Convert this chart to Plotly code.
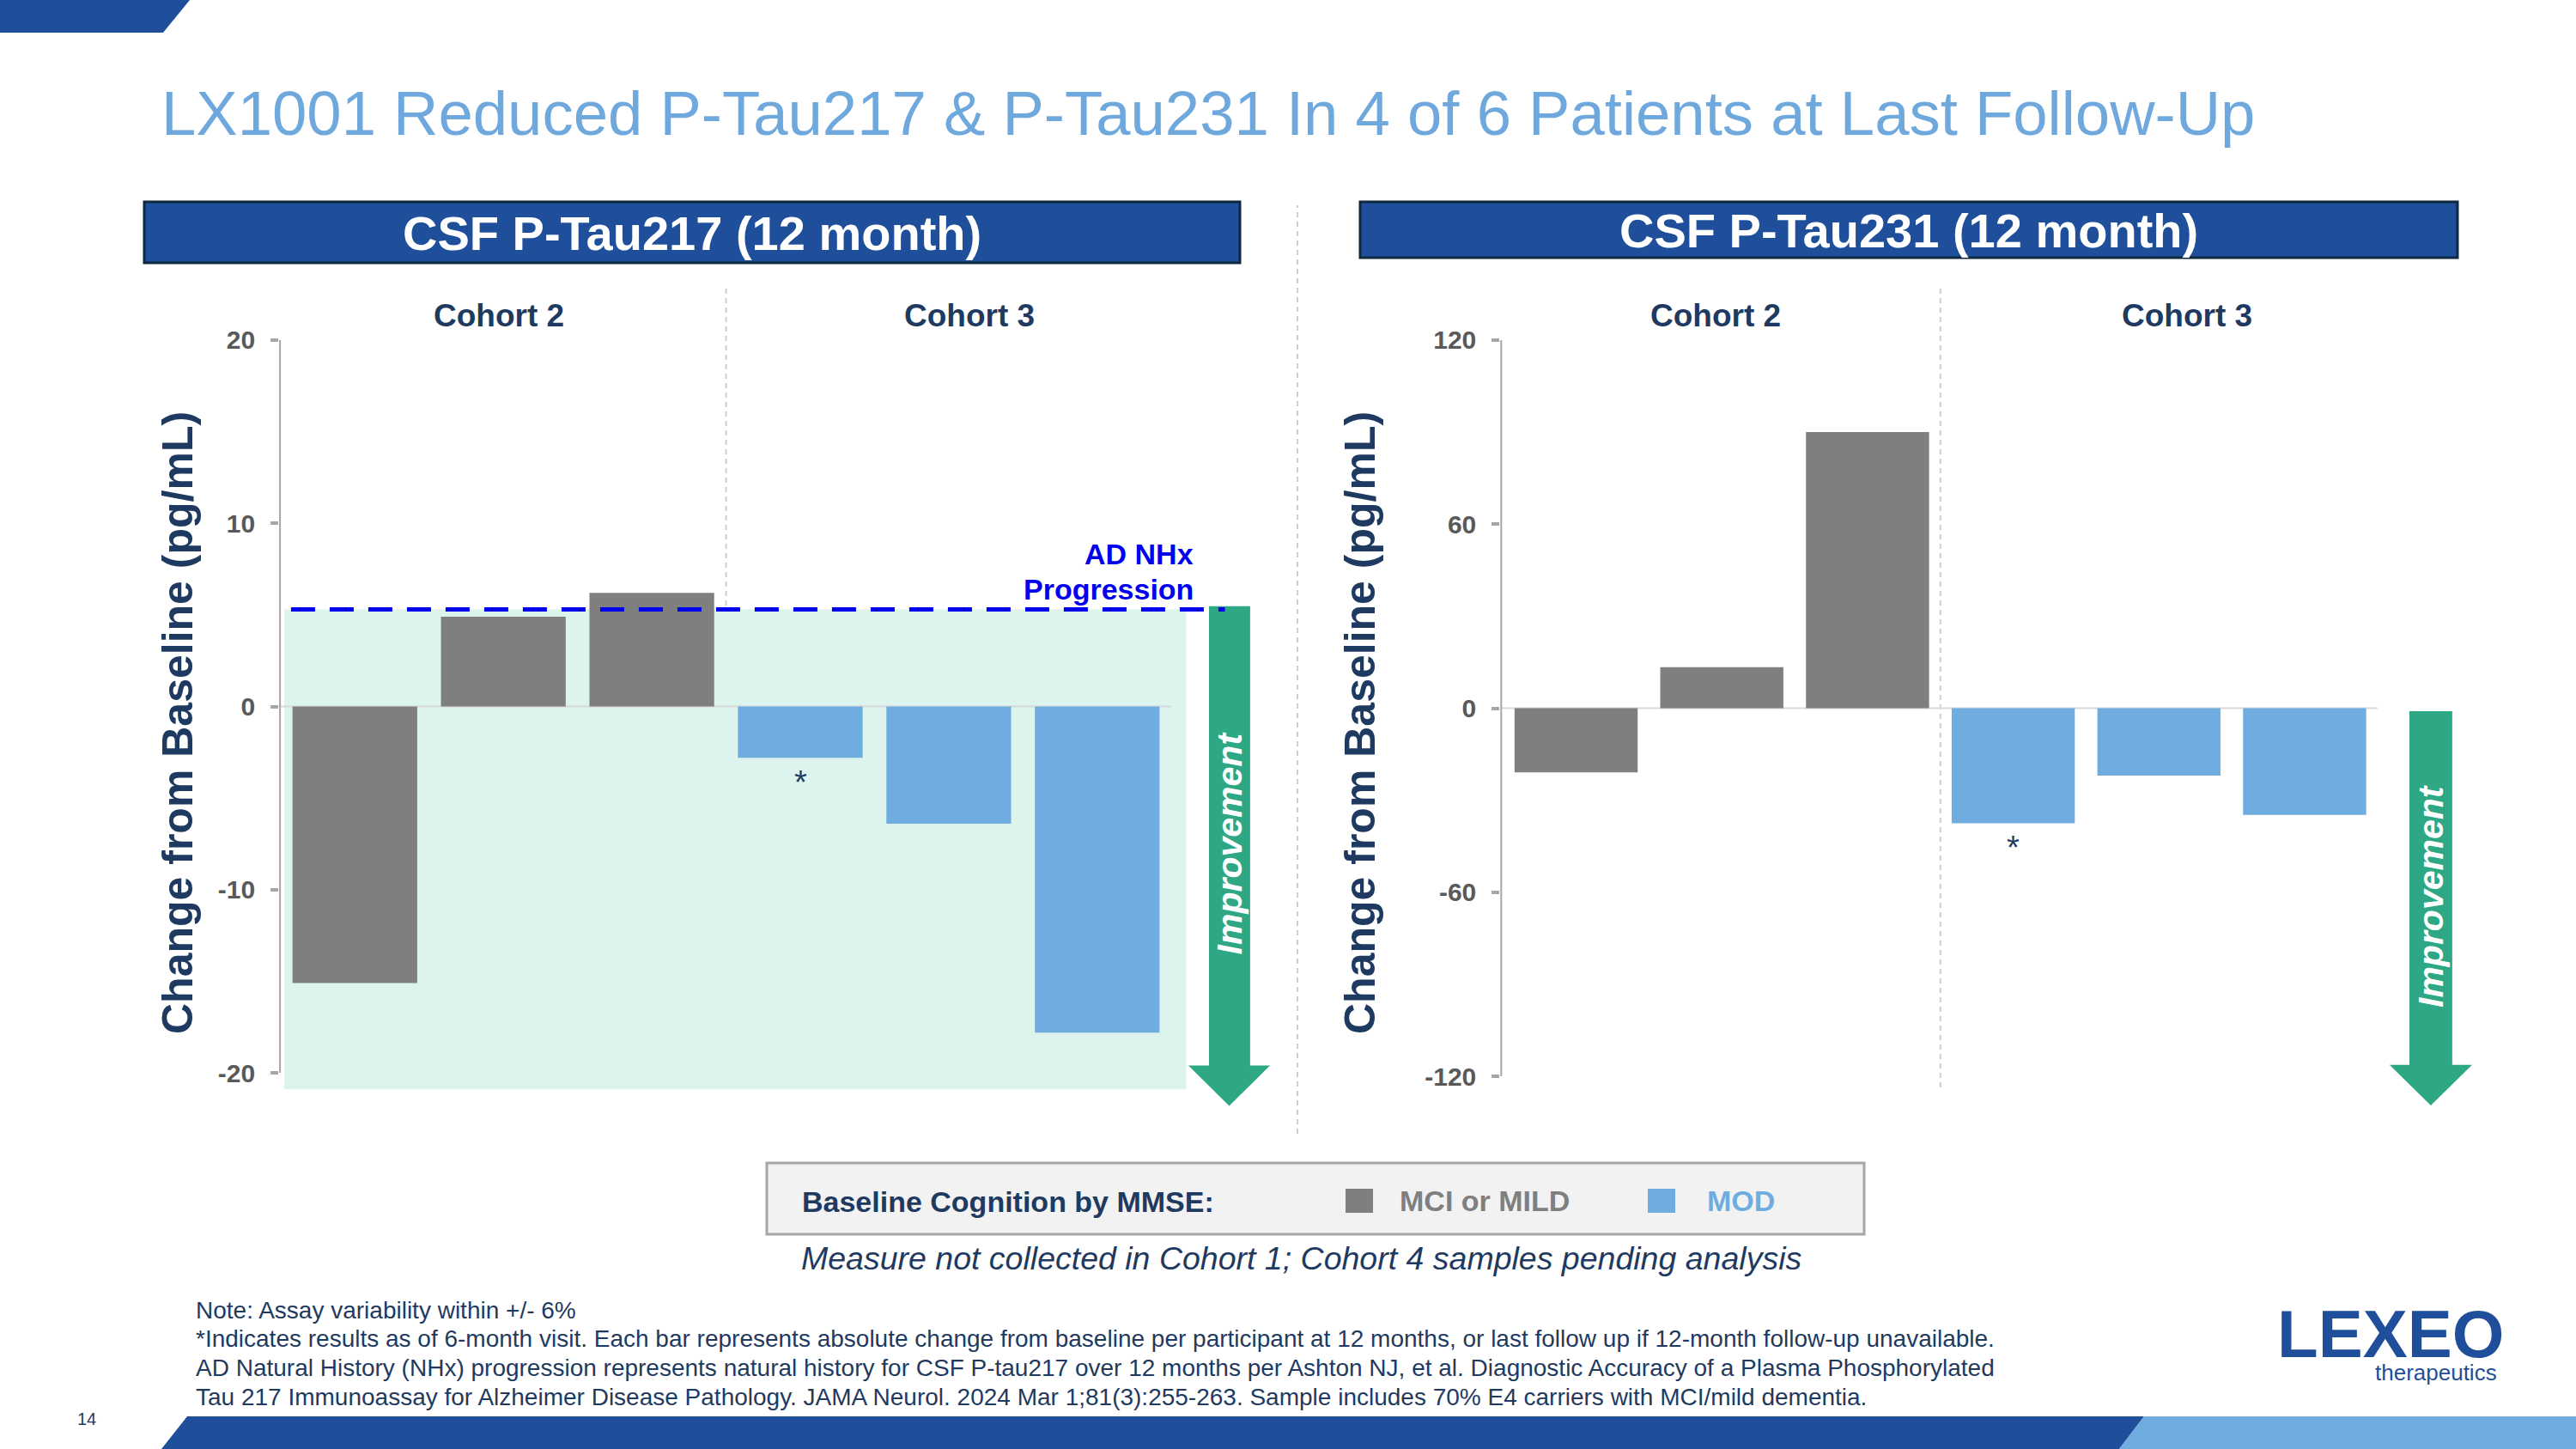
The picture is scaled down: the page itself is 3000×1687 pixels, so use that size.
import plotly.graph_objects as go

W, H = 3000, 1687

# ---------------- data ----------------
patients = ["P1", "P2", "P3", "P4", "P5", "P6"]
cohorts = ["Cohort 2", "Cohort 2", "Cohort 2", "Cohort 3", "Cohort 3", "Cohort 3"]
mmse_group = ["MCI or MILD", "MCI or MILD", "MCI or MILD", "MOD", "MOD", "MOD"]
ptau217_change = [-15.1, 4.9, 6.2, -2.8, -6.4, -17.8]
ptau231_change = [-20.9, 13.4, 90.0, -37.5, -22.0, -34.8]
six_month_only = [False, False, False, True, False, False]
nhx_progression_217 = 5.3
ticks_217 = [-20, -10, 0, 10, 20]
ticks_231 = [-120, -60, 0, 60, 120]
legend_items = ["MCI or MILD", "MOD"]

# ---------------- styles ----------------
FONT = "Liberation Sans, Arial, sans-serif"
NAVY = "#1F3A60"
DARKBLUE = "#1F4E9B"
LIGHTBLUE = "#6FADE0"
GRAY_BAR = "#7F7F7F"
AXIS_GRAY = "#A6A6A6"
GREEN = "#2EA884"
MINT = "#DDF3EE"
COLORS = {"MCI or MILD": GRAY_BAR, "MOD": LIGHTBLUE}


def px(x):
    return x / W


def py(y):
    return 1 - y / H


fig = go.Figure()

fig.add_trace(go.Bar(x=patients, y=ptau217_change,
                     marker=dict(color=[COLORS[g] for g in mmse_group], line=dict(width=0)),
                     width=0.84, xaxis="x", yaxis="y", showlegend=False, hoverinfo="skip"))
fig.add_trace(go.Bar(x=patients, y=ptau231_change,
                     marker=dict(color=[COLORS[g] for g in mmse_group], line=dict(width=0)),
                     width=0.845, xaxis="x2", yaxis="y2", showlegend=False, hoverinfo="skip"))

ydom = [py(1302), py(374)]
tickfont = dict(family=FONT, size=30, color="#595959", weight="bold")
common_x = dict(type="category", showticklabels=False, showgrid=False, zeroline=False,
                showline=False, ticks="", fixedrange=True)
common_y = dict(showgrid=False, zeroline=False, showline=False, ticks="outside",
                ticklen=9, tickwidth=4, tickcolor=AXIS_GRAY, tickfont=tickfont,
                ticklabelstandoff=12)

fig.update_layout(
    width=W, height=H,
    margin=dict(l=0, r=0, t=0, b=0),
    paper_bgcolor="white", plot_bgcolor="rgba(0,0,0,0)",
    font=dict(family=FONT),
    bargap=0.16,
    xaxis=dict(domain=[px(325.1), px(1485.3)], range=[-0.51, 6.2], anchor="y", **common_x),
    yaxis=dict(domain=ydom, range=[-22.48, 21.03], anchor="x", tickvals=ticks_217,
               ticktext=[str(t) for t in ticks_217], **common_y),
    xaxis2=dict(domain=[px(1747.3), px(2887.6)], range=[-0.52, 6.2], anchor="y2", **common_x),
    yaxis2=dict(domain=ydom, range=[-133.7, 126.15], anchor="x2", tickvals=ticks_231,
                ticktext=[str(t) for t in ticks_231], **common_y),
)

shapes = []
annotations = []


def ann(text, x, y, size, color, xanchor="center", yanchor="middle",
        xref="paper", yref="paper", angle=0, **kw):
    if xref == "paper":
        x = px(x)
    if yref == "paper":
        y = py(y)
    annotations.append(dict(text=text, x=x, y=y, xref=xref, yref=yref,
                            xanchor=xanchor, yanchor=yanchor, showarrow=False,
                            textangle=angle,
                            font=dict(family=FONT, size=size, color=color), **kw))


def poly(points, color, line_color=None, line_width=0, layer="above"):
    path = "M " + " L ".join(f"{px(a):.5f},{py(b):.5f}" for a, b in points) + " Z"
    shapes.append(dict(type="path", path=path, xref="paper", yref="paper",
                       fillcolor=color, line=dict(width=line_width, color=line_color or color),
                       layer=layer))


# ---------------- page decorations ----------------
poly([(0, 0), (221, 0), (190, 38), (0, 38)], DARKBLUE)
poly([(188, 1687), (218, 1649), (2497, 1649), (2468, 1687)], DARKBLUE)
poly([(2468, 1687), (2497, 1649), (3000, 1649), (3000, 1687)], LIGHTBLUE)

ann("LX1001 Reduced P-Tau217 &amp; P-Tau231 In 4 of 6 Patients at Last Follow-Up",
    186, 132, 72.5, "#6FA8DC", xanchor="left")

# header boxes
for (x0, x1, y0, y1, label) in [(168, 1444, 235, 306, "CSF P-Tau217 (12 month)"),
                                (1584, 2862, 235, 300, "CSF P-Tau231 (12 month)")]:
    shapes.append(dict(type="rect", xref="paper", yref="paper",
                       x0=px(x0), x1=px(x1), y0=py(y1), y1=py(y0),
                       fillcolor=DARKBLUE, line=dict(color="#0E2841", width=3)))
    ann(f"<b>{label}</b>", (x0 + x1) / 2, (y0 + y1) / 2 + 1, 56, "white")

# middle divider
shapes.append(dict(type="line", xref="paper", yref="paper", x0=px(1511), x1=px(1511),
                   y0=py(1320), y1=py(239), line=dict(color="#C9CED6", width=2, dash="6px,5px")))

# ---------------- per chart decorations ----------------
charts = [
    dict(xr="x", yr="y", vals=ptau217_change, ticks=ticks_217, axis_x=-0.51,
         cohort_x=[0.97, 4.14], ytitle_x=207,
         arrow=dict(top=5.47, hs=-19.6, tip=-21.8, s0=5.753, s1=6.03, h0=5.614, h1=6.164, c=5.889, ty=-7.47)),
    dict(xr="x2", yr="y2", vals=ptau231_change, ticks=ticks_231, axis_x=-0.52,
         cohort_x=[0.96, 4.19], ytitle_x=1584,
         arrow=dict(top=-1.0, hs=-116.3, tip=-129.5, s0=5.719, s1=6.013, h0=5.583, h1=6.149, c=5.866, ty=-61.2)),
]

# shaded region under AD NHx progression (left chart)
shapes.append(dict(type="rect", xref="x", yref="y", x0=-0.476, x1=5.6,
                   y0=-20.9, y1=nhx_progression_217, fillcolor=MINT, line=dict(width=0),
                   layer="below"))

for ch in charts:
    xr, yr = ch["xr"], ch["yr"]
    # y axis line
    shapes.append(dict(type="line", xref=xr, yref=yr, x0=ch["axis_x"], x1=ch["axis_x"],
                       y0=min(ch["ticks"]), y1=max(ch["ticks"]),
                       line=dict(color=AXIS_GRAY, width=4)))
    # zero line
    shapes.append(dict(type="line", xref=xr, yref=yr, x0=ch["axis_x"], x1=5.5, y0=0, y1=0,
                       line=dict(color="#D9D9D9", width=2), layer="below"))
    # cohort divider
    shapes.append(dict(type="line", xref=xr, yref="paper", x0=2.5, x1=2.5,
                       y0=py(1266), y1=py(335),
                       line=dict(color="#C9CED6", width=2, dash="6px,5px"), layer="below"))
    # cohort labels
    for name, cx in zip(["Cohort 2", "Cohort 3"], ch["cohort_x"]):
        annotations.append(dict(text=f"<b>{name}</b>", x=cx, y=py(367), xref=xr, yref="paper",
                                showarrow=False, xanchor="center", yanchor="middle",
                                font=dict(family=FONT, size=37, color=NAVY)))
    # y title
    ann("<b>Change from Baseline (pg/mL)</b>", ch["ytitle_x"], 842, 50, NAVY, angle=-90)
    # asterisks
    for p, v, flag in zip(patients, ch["vals"], six_month_only):
        if flag:
            annotations.append(dict(text="*", x=p, y=v, xref=xr, yref=yr, showarrow=False,
                                    xanchor="center", yanchor="top", yshift=-6,
                                    font=dict(family=FONT, size=38, color=NAVY)))
    # improvement arrow
    a = ch["arrow"]
    path = (f"M {a['s0']},{a['top']} L {a['s1']},{a['top']} L {a['s1']},{a['hs']} "
            f"L {a['h1']},{a['hs']} L {a['c']},{a['tip']} L {a['h0']},{a['hs']} "
            f"L {a['s0']},{a['hs']} Z")
    shapes.append(dict(type="path", xref=xr, yref=yr, path=path, fillcolor=GREEN,
                       line=dict(width=0)))
    annotations.append(dict(text="<b><i>Improvement</i></b>", x=a["c"], y=a["ty"], xref=xr, yref=yr,
                            showarrow=False, textangle=-90, xanchor="center", yanchor="middle",
                            font=dict(family=FONT, size=41, color="white")))

# AD NHx progression line
shapes.append(dict(type="line", xref="x", yref="y", x0=-0.43, x1=5.86,
                   y0=nhx_progression_217, y1=nhx_progression_217,
                   line=dict(color="#0000EE", width=5, dash="28px,17px")))
ann("<b>AD NHx</b>", 1392, 645, 34, "#0000EE", xanchor="right")
ann("<b>Progression</b>", 1392, 686, 34, "#0000EE", xanchor="right")

# ---------------- legend box ----------------
shapes.append(dict(type="rect", xref="paper", yref="paper", x0=px(893), x1=px(2171),
                   y0=py(1437), y1=py(1354), fillcolor="#F2F2F2",
                   line=dict(color=AXIS_GRAY, width=3)))
ann("<b>Baseline Cognition by MMSE:</b>", 932, 1399, 34, NAVY, xanchor="left")
for item, (sx, tx) in zip(legend_items, [(1567, 1628), (1919, 1986)]):
    shapes.append(dict(type="rect", xref="paper", yref="paper", x0=px(sx), x1=px(sx + 32),
                       y0=py(1412), y1=py(1384), fillcolor=COLORS[item], line=dict(width=0)))
    ann(f"<b>{item}</b>", tx, 1398, 34, COLORS[item], xanchor="left")

ann("<i>Measure not collected in Cohort 1; Cohort 4 samples pending analysis</i>",
    1515, 1465, 37.5, NAVY)

# ---------------- footnotes ----------------
foot = [
    "Note: Assay variability within +/- 6%",
    "*Indicates results as of 6-month visit. Each bar represents absolute change from baseline per participant at 12 months, or last follow up if 12-month follow-up unavailable.",
    "AD Natural History (NHx) progression represents natural history for CSF P-tau217 over 12 months per Ashton NJ, et al. Diagnostic Accuracy of a Plasma Phosphorylated",
    "Tau 217 Immunoassay for Alzheimer Disease Pathology. JAMA Neurol. 2024 Mar 1;81(3):255-263. Sample includes 70% E4 carriers with MCI/mild dementia.",
]
for i, line in enumerate(foot):
    ann(line, 226, 1525 + i * 33.7, 28, NAVY, xanchor="left")

ann("14", 101, 1652, 20, NAVY)

# logo
ann("<b>LEXEO</b>", 2784, 1553, 78, DARKBLUE)
ann("therapeutics", 2910, 1598, 26, DARKBLUE, xanchor="right")

fig.update_layout(shapes=shapes, annotations=annotations)
fig.write_html("out.html", config={"displayModeBar": False},
               post_script="document.body.style.margin='0';document.body.style.overflow='hidden';")
